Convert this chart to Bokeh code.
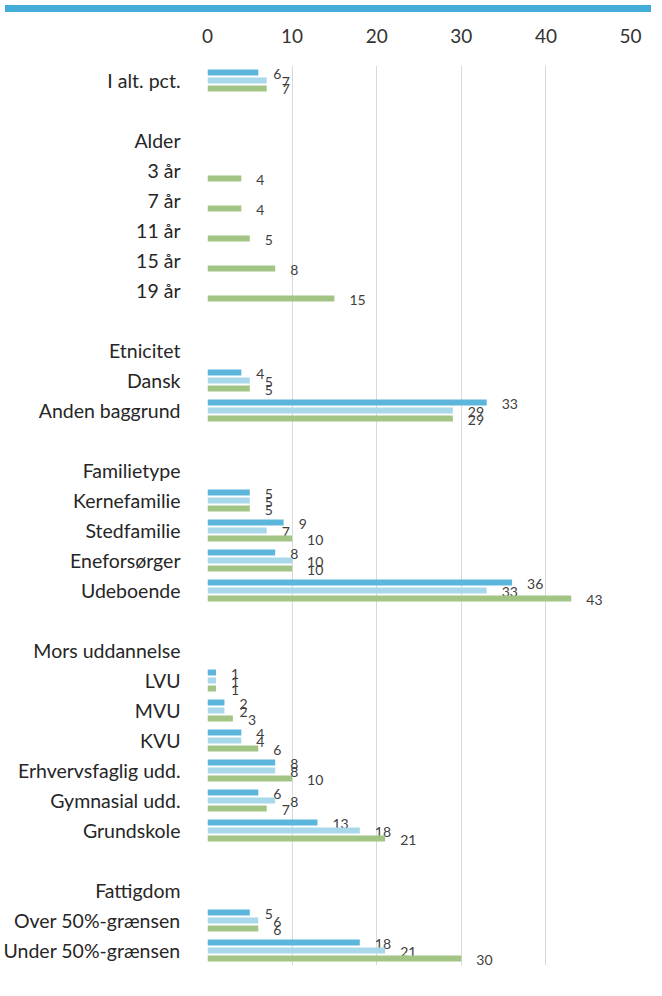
from bokeh.plotting import figure
from bokeh.models import (ColumnDataSource, FactorRange, FixedTicker, Legend,
                          LegendItem, Div, Range1d)
from bokeh.layouts import column
from bokeh.transform import dodge
from bokeh.core.properties import value
from bokeh.embed import file_html
from bokeh.resources import INLINE

# ---------------- data ----------------
categories = ["I alt. pct.", " ", "Alder", "3 år", "7 år", "11 år", "15 år", "19 år",
              "  ", "Etnicitet", "Dansk", "Anden baggrund", "   ", "Familietype",
              "Kernefamilie", "Stedfamilie", "Eneforsørger", "Udeboende", "    ",
              "Mors uddannelse", "LVU", "MVU", "KVU", "Erhvervsfaglig udd.",
              "Gymnasial udd.", "Grundskole", "     ", "Fattigdom",
              "Over 50%-grænsen", "Under 50%-grænsen"]
N = None
v2009 = [6, N, N, N, N, N, N, N, N, N, 4, 33, N, N, 5, 9, 8, 36, N, N, 1, 2, 4, 8, 6, 13, N, N, 5, 18]
v2013 = [7, N, N, N, N, N, N, N, N, N, 5, 29, N, N, 5, 7, 10, 33, N, N, 1, 2, 4, 8, 8, 18, N, N, 6, 21]
v2017 = [7, N, N, 4, 4, 5, 8, 15, N, N, 5, 29, N, N, 5, 10, 10, 43, N, N, 1, 3, 6, 10, 7, 21, N, N, 6, 30]
years = ["2009", "2013", "2017"]
x_ticks = [0, 10, 20, 30, 40, 50]

colors = ["#5CB6DB", "#A8D8EA", "#A2C585"]
offsets = [8 / 30, 0.0, -8 / 30]
FONT = "Lato"

band = Div(text="", width=646, height=7, styles={"background-color": "#44ACD8"})

p = figure(width=646, height=973,
           y_range=FactorRange(factors=categories[::-1]),
           x_range=Range1d(0, 50), x_axis_location="above",
           output_backend="svg", toolbar_location=None,
           min_border_left=200, min_border_right=16,
           min_border_top=48, min_border_bottom=25)
p.outline_line_color = None
p.background_fill_color = "white"
p.border_fill_color = "white"

p.xaxis.ticker = FixedTicker(ticks=x_ticks)
p.xgrid.ticker = FixedTicker(ticks=x_ticks)
p.xgrid.grid_line_color = "#D9D9D9"
p.ygrid.grid_line_color = None
for ax in (p.xaxis, p.yaxis):
    ax.axis_line_color = None
    ax.major_tick_line_color = None
    ax.minor_tick_line_color = None
    ax.major_label_text_font = FONT
p.xaxis.major_label_text_font_size = "19px"
p.xaxis.major_label_text_color = "#333333"
p.xaxis.major_label_standoff = 17
p.yaxis.major_label_text_font_size = "19.5px"
p.yaxis.major_label_text_color = "#262626"
p.yaxis.major_label_standoff = 21

items = []
for yr, vals, col, off in zip(years, [v2009, v2013, v2017], colors, offsets):
    cats = [c for c, v in zip(categories, vals) if v is not None]
    vv = [v for v in vals if v is not None]
    src = ColumnDataSource(dict(cat=cats, val=vv, lab=[str(v) for v in vv]))
    r = p.hbar(y=dodge("cat", off, range=p.y_range), left=0, right="val",
               height=0.2, fill_color=col, line_color=None, source=src)
    p.text(x="val", y=dodge("cat", off, range=p.y_range), text="lab",
           x_offset=15, y_offset=1, text_align="left", text_baseline="middle",
           text_font=value(FONT), text_font_size="14px", text_color="#404040",
           source=src)
    items.append(LegendItem(label=yr, renderers=[r]))

legend = Legend(items=items, orientation="horizontal", location=(0, -25),
                glyph_width=11, glyph_height=11, label_standoff=5, spacing=41,
                padding=0, margin=0, border_line_color=None,
                background_fill_alpha=0,
                label_text_font=FONT, label_text_font_size="18.5px",
                label_text_color="#333333")
p.add_layout(legend, "center")

layout = column(band, p, spacing=0)
open("out.html", "w").write(file_html(layout, INLINE))
